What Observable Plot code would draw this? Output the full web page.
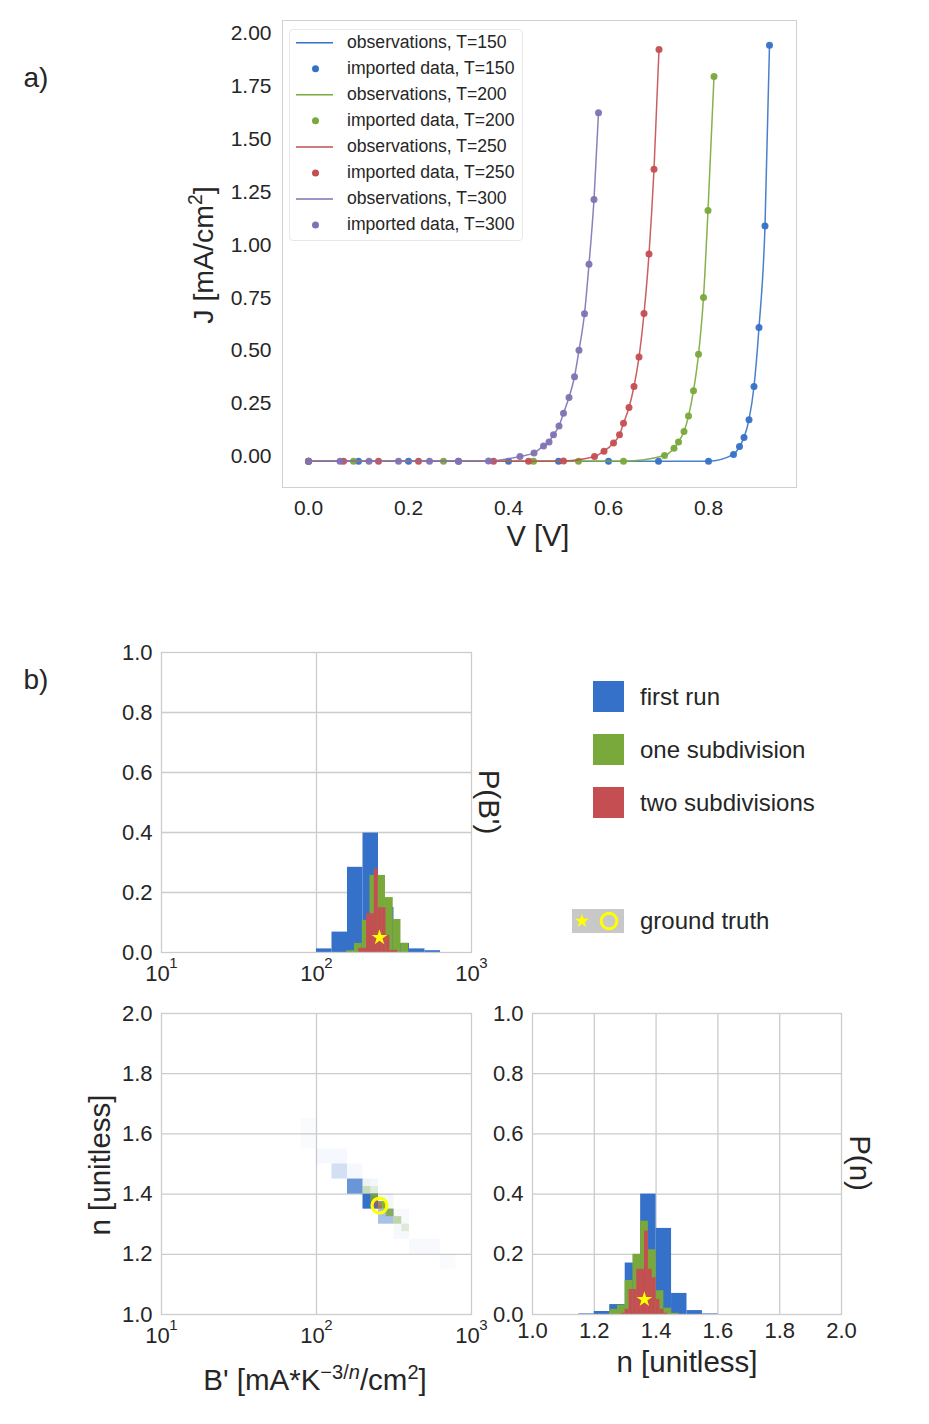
<!DOCTYPE html>
<html><head><meta charset="utf-8">
<script src="https://cdn.jsdelivr.net/npm/d3@7"></script>
<script src="https://cdn.jsdelivr.net/npm/@observablehq/plot@0.6"></script>
<style>
body{margin:0;background:#fff;}
#root{position:relative;width:929px;height:1424px;background:#fff;font-family:"Liberation Sans",Arial,sans-serif;color:#262626;overflow:hidden;}
.abs{position:absolute;white-space:nowrap;line-height:1;}
sup{font-size:0.68em;vertical-align:0.55em;line-height:0;}
</style></head><body><div id="root"></div>
<script>
// ---------- Panel a data: J-V curves ----------
const V_T150 = [0, 0.1, 0.2, 0.3, 0.4, 0.5, 0.6, 0.7, 0.8, 0.85, 0.862, 0.871, 0.881, 0.891, 0.901, 0.913, 0.922];
const J_T150 = [-0.023, -0.023, -0.023, -0.023, -0.023, -0.023, -0.023, -0.023, -0.022, 0.01, 0.047, 0.09, 0.174, 0.331, 0.61, 1.09, 1.944];
const V_T200 = [0, 0.09, 0.27, 0.45, 0.54, 0.63, 0.712, 0.731, 0.74, 0.751, 0.76, 0.77, 0.78, 0.79, 0.799, 0.811];
const J_T200 = [-0.023, -0.023, -0.023, -0.023, -0.023, -0.022, 0.005, 0.039, 0.069, 0.118, 0.191, 0.311, 0.483, 0.752, 1.163, 1.797];
const V_T250 = [0, 0.07, 0.14, 0.22, 0.37, 0.44, 0.51, 0.572, 0.591, 0.61, 0.622, 0.63, 0.641, 0.651, 0.661, 0.671, 0.681, 0.691, 0.701];
const J_T250 = [-0.023, -0.023, -0.023, -0.023, -0.023, -0.023, -0.021, 0.0, 0.025, 0.064, 0.103, 0.157, 0.232, 0.331, 0.47, 0.676, 0.957, 1.358, 1.924];
const V_T300 = [0, 0.063, 0.121, 0.18, 0.242, 0.3, 0.36, 0.423, 0.451, 0.47, 0.481, 0.49, 0.501, 0.51, 0.521, 0.532, 0.541, 0.552, 0.561, 0.571, 0.58];
const J_T300 = [-0.023, -0.023, -0.023, -0.023, -0.023, -0.023, -0.021, 0.0, 0.017, 0.05, 0.068, 0.103, 0.144, 0.205, 0.279, 0.377, 0.502, 0.675, 0.909, 1.215, 1.625];
const TEMPS = [150, 200, 250, 300];
const A_X_TICKS = [0, 0.2, 0.4, 0.6, 0.8];
const A_Y_TICKS = [0, 0.25, 0.5, 0.75, 1.0, 1.25, 1.5, 1.75, 2.0];

// ---------- Panel b data: marginal histograms ----------
// P(B'): lower bin edges in log10(B'), bin widths in decades, probabilities
const PB_BLUE_LOG = [2.0, 2.1, 2.2, 2.3, 2.4, 2.5, 2.6, 2.7];
const PB_BLUE_W = 0.1;
const PB_BLUE_P = [0.012, 0.068, 0.284, 0.398, 0.15, 0.03, 0.012, 0.006];
const PB_GREEN_LOG = [2.195, 2.245, 2.295, 2.345, 2.395, 2.445, 2.495, 2.545];
const PB_GREEN_W = 0.05;
const PB_GREEN_P = [0.006, 0.03, 0.107, 0.257, 0.257, 0.183, 0.11, 0.031];
const PB_RED_LOG = [2.273, 2.298, 2.323, 2.348, 2.373, 2.398, 2.423, 2.448, 2.473, 2.498];
const PB_RED_W = 0.025;
const PB_RED_P = [0.014, 0.014, 0.129, 0.129, 0.279, 0.149, 0.149, 0.057, 0.007, 0.007];
// P(n)
const PN_BLUE_N = [1.15, 1.2, 1.25, 1.3, 1.35, 1.4, 1.45, 1.5, 1.55];
const PN_BLUE_W = 0.05;
const PN_BLUE_P = [0.002, 0.01, 0.033, 0.171, 0.40, 0.286, 0.07, 0.013, 0.002];
const PN_GREEN_N = [1.25, 1.275, 1.3, 1.325, 1.35, 1.375, 1.4, 1.425, 1.45];
const PN_GREEN_W = 0.025;
const PN_GREEN_P = [0.017, 0.031, 0.113, 0.2, 0.31, 0.215, 0.079, 0.021, 0.004];
const PN_RED_N = [1.2875, 1.3, 1.3125, 1.325, 1.3375, 1.35, 1.3625, 1.375, 1.3875, 1.4, 1.4125, 1.425];
const PN_RED_W = 0.0125;
const PN_RED_P = [0.004, 0.017, 0.083, 0.083, 0.15, 0.15, 0.277, 0.15, 0.122, 0.05, 0.017, 0.004];
// joint 2D histogram (log10 B' lower edge, n lower edge, relative density)
const H_BLUE_LOGB = [1.9, 1.9, 2.0, 2.1, 2.1, 2.2, 2.2, 2.3, 2.3, 2.4, 2.4, 2.5, 2.5, 2.6, 2.7, 2.8];
const H_BLUE_N =    [1.60, 1.55, 1.50, 1.50, 1.45, 1.45, 1.40, 1.40, 1.35, 1.35, 1.30, 1.30, 1.25, 1.20, 1.20, 1.15];
const H_BLUE_D =    [0.03, 0.03, 0.05, 0.05, 0.22, 0.05, 0.74, 0.06, 1.0, 0.06, 0.43, 0.04, 0.05, 0.04, 0.04, 0.03];
const H_BLUE_DB = 0.1, H_BLUE_DN = 0.05;
const H_GREEN_LOGB = [2.30, 2.35, 2.35, 2.40, 2.45, 2.50, 2.55, 2.30];
const H_GREEN_N =    [1.40, 1.40, 1.375, 1.35, 1.325, 1.30, 1.275, 1.425];
const H_GREEN_D =    [0.35, 0.15, 0.85, 0.9, 0.8, 0.45, 0.18, 0.05];
const H_GREEN_DB = 0.05, H_GREEN_DN = 0.025;
const H_RED_LOGB = [2.375, 2.40, 2.375, 2.35, 2.40, 2.425];
const H_RED_N =    [1.3625, 1.35, 1.35, 1.375, 1.3625, 1.3375];
const H_RED_D =    [0.7, 0.5, 0.3, 0.25, 0.3, 0.15];
const H_RED_DB = 0.025, H_RED_DN = 0.0125;
// ground truth
const TRUE_B = 255, TRUE_N = 1.362, STAR_Y = 0.05;
const LOG_TICKS = [10, 100, 1000];
const LOG_TICK_EXP = ["1", "2", "3"];
const P_TICKS = [0, 0.2, 0.4, 0.6, 0.8, 1.0];
const N_TICKS = [1.0, 1.2, 1.4, 1.6, 1.8, 2.0];

const BLUE = "#3571c8", GREEN = "#79a83b", RED = "#c44e52", PURPLE = "#8172b2";
const GRID = "#cccccc", YELLOW = "#ffff00";
const FONT = '"Liberation Sans", Arial, sans-serif';

const root = document.getElementById("root");
function put(el, left, top) { el.style.position = "absolute"; el.style.left = left + "px"; el.style.top = top + "px"; root.appendChild(el); }
function label(html, cx, cy, size, rot = 0) {
  const d = document.createElement("div"); d.className = "abs"; d.innerHTML = html;
  d.style.fontSize = size + "px"; d.style.left = cx + "px"; d.style.top = cy + "px";
  d.style.transform = `translate(-50%,-50%) rotate(${rot}deg)`; root.appendChild(d);
}
function labelLeft(html, left, cy, size) {
  const d = document.createElement("div"); d.className = "abs"; d.innerHTML = html;
  d.style.fontSize = size + "px"; d.style.left = left + "px"; d.style.top = cy + "px";
  d.style.transform = "translate(0,-50%)"; root.appendChild(d);
}
const baseStyle = (fs) => ({background: "transparent", overflow: "visible", fontFamily: FONT, fontSize: fs + "px", color: "#262626"});

// ---------- Panel a ----------
const seriesA = [
  {T: TEMPS[0], V: V_T150, J: J_T150, color: BLUE},
  {T: TEMPS[1], V: V_T200, J: J_T200, color: GREEN},
  {T: TEMPS[2], V: V_T250, J: J_T250, color: RED},
  {T: TEMPS[3], V: V_T300, J: J_T300, color: PURPLE}
];
const marksA = [Plot.frame({stroke: "#d0d0d0"})];
for (const s of seriesA) {
  const rows = s.V.map((v, i) => ({V: v, J: s.J[i]}));
  marksA.push(Plot.line(rows, {x: "V", y: "J", stroke: s.color, strokeWidth: 1.5, strokeOpacity: 0.9, curve: "monotone-x"}));
  marksA.push(Plot.dot(rows, {x: "V", y: "J", r: 3.5, fill: s.color, fillOpacity: 0.95}));
}
marksA.push(Plot.axisX({ticks: A_X_TICKS, tickFormat: d3.format(".1f"), tickSize: 0, tickPadding: 13, label: null}));
marksA.push(Plot.axisY({ticks: A_Y_TICKS, tickFormat: d3.format(".2f"), tickSize: 0, tickPadding: 11, label: null}));
const plotA = Plot.plot({
  width: 929, height: 560, marginLeft: 282, marginRight: 133, marginTop: 20, marginBottom: 73,
  x: {domain: [-0.052, 0.976]}, y: {domain: [-0.1466, 2.0615]},
  style: baseStyle(21), marks: marksA
});
put(plotA, 0, 0);

// legend a
const legA = document.createElement("div");
legA.style.cssText = "width:234px;height:212px;border:1px solid #e8e8e8;border-radius:4px;background:#fff;box-sizing:border-box;";
put(legA, 289, 29);
const legSvg = d3.create("svg").attr("width", 929).attr("height", 260).style("position", "absolute").style("left", "0px").style("top", "0px").style("overflow", "visible");
seriesA.forEach((s, k) => {
  const yl = 42.7 + (2 * k) * 26.05, yd = 42.7 + (2 * k + 1) * 26.05;
  legSvg.append("line").attr("x1", 296).attr("x2", 333).attr("y1", yl).attr("y2", yl).attr("stroke", s.color).attr("stroke-width", 1.5);
  legSvg.append("circle").attr("cx", 315.5).attr("cy", yd).attr("r", 3.5).attr("fill", s.color);
  labelLeft(`observations, T=${s.T}`, 347, yl, 17.6);
  labelLeft(`imported data, T=${s.T}`, 347, yd, 17.6);
});
root.appendChild(legSvg.node());

label("a)", 36, 78, 28);
label("J [mA/cm<sup>2</sup>]", 203, 255, 28.5, -90);
label("V [V]", 538, 536, 29);

// ---------- Panel b helpers ----------
const histLog = (edges, w, p) => edges.map((e, i) => ({x1: 10 ** e, x2: 10 ** (e + w), y: p[i]}));
const histLin = (edges, w, p) => edges.map((e, i) => ({x1: e, x2: e + w, y: p[i]}));
const cells = (lb, n, d, db, dn) => lb.map((b, i) => ({x1: 10 ** b, x2: 10 ** (b + db), y1: n[i], y2: n[i] + dn, d: d[i]}));
const gridOpts = {stroke: GRID, strokeOpacity: 1, strokeWidth: 1.3};
const logLabels = () => [
  Plot.text(LOG_TICKS, {x: d => d, text: () => "10", frameAnchor: "bottom", dy: 28, dx: -4, fontSize: 22}),
  Plot.text(LOG_TICKS, {x: d => d, text: (d, i) => LOG_TICK_EXP[i], frameAnchor: "bottom", dy: 15, dx: 12, fontSize: 15})
];

// top marginal P(B')
const plotB1 = Plot.plot({
  width: 531, height: 402, marginLeft: 161, marginRight: 60, marginTop: 52, marginBottom: 50,
  x: {type: "log", domain: [10, 1000], axis: null}, y: {domain: [0, 1], axis: null},
  style: baseStyle(22),
  marks: [
    Plot.gridY({ticks: [0.2, 0.4, 0.6, 0.8], ...gridOpts}),
    Plot.gridX({ticks: [100], ...gridOpts}),
    Plot.rectY(histLog(PB_BLUE_LOG, PB_BLUE_W, PB_BLUE_P), {x1: "x1", x2: "x2", y: "y", fill: BLUE}),
    Plot.rectY(histLog(PB_GREEN_LOG, PB_GREEN_W, PB_GREEN_P), {x1: "x1", x2: "x2", y: "y", fill: GREEN}),
    Plot.rectY(histLog(PB_RED_LOG, PB_RED_W, PB_RED_P), {x1: "x1", x2: "x2", y: "y", fill: RED}),
    Plot.frame({stroke: GRID, strokeWidth: 1.3}),
    Plot.dot([{x: TRUE_B, y: STAR_Y}], {x: "x", y: "y", symbol: "star", r: 4.9, fill: YELLOW}),
    Plot.axisY({ticks: P_TICKS, tickFormat: d3.format(".1f"), tickSize: 0, tickPadding: 9, label: null}),
    ...logLabels()
  ]
});
put(plotB1, 0, 600);

// joint
const plotB2 = Plot.plot({
  width: 531, height: 374, marginLeft: 161, marginRight: 60, marginTop: 13, marginBottom: 60,
  x: {type: "log", domain: [10, 1000], axis: null}, y: {domain: [1, 2], axis: null},
  opacity: {type: "linear", domain: [0, 1], range: [0, 1]},
  style: baseStyle(22),
  marks: [
    Plot.gridY({ticks: [1.2, 1.4, 1.6, 1.8], ...gridOpts}),
    Plot.gridX({ticks: [100], ...gridOpts}),
    Plot.rect(cells(H_BLUE_LOGB, H_BLUE_N, H_BLUE_D, H_BLUE_DB, H_BLUE_DN), {x1: "x1", x2: "x2", y1: "y1", y2: "y2", fill: BLUE, fillOpacity: "d"}),
    Plot.rect(cells(H_GREEN_LOGB, H_GREEN_N, H_GREEN_D, H_GREEN_DB, H_GREEN_DN), {x1: "x1", x2: "x2", y1: "y1", y2: "y2", fill: GREEN, fillOpacity: "d"}),
    Plot.rect(cells(H_RED_LOGB, H_RED_N, H_RED_D, H_RED_DB, H_RED_DN), {x1: "x1", x2: "x2", y1: "y1", y2: "y2", fill: RED, fillOpacity: "d"}),
    Plot.frame({stroke: GRID, strokeWidth: 1.3}),
    Plot.dot([{x: TRUE_B, y: TRUE_N}], {x: "x", y: "y", r: 7.5, stroke: YELLOW, strokeWidth: 3.2, fill: "none"}),
    Plot.axisY({ticks: N_TICKS, tickFormat: d3.format(".1f"), tickSize: 0, tickPadding: 9, label: null}),
    ...logLabels()
  ]
});
put(plotB2, 0, 1000);

// right marginal P(n)
const plotB3 = Plot.plot({
  width: 491, height: 374, marginLeft: 132, marginRight: 50, marginTop: 13, marginBottom: 60,
  x: {domain: [1, 2]}, y: {domain: [0, 1]},
  style: baseStyle(22),
  marks: [
    Plot.gridY({ticks: [0.2, 0.4, 0.6, 0.8], ...gridOpts}),
    Plot.gridX({ticks: [1.2, 1.4, 1.6, 1.8], ...gridOpts}),
    Plot.rectY(histLin(PN_BLUE_N, PN_BLUE_W, PN_BLUE_P), {x1: "x1", x2: "x2", y: "y", fill: BLUE}),
    Plot.rectY(histLin(PN_GREEN_N, PN_GREEN_W, PN_GREEN_P), {x1: "x1", x2: "x2", y: "y", fill: GREEN}),
    Plot.rectY(histLin(PN_RED_N, PN_RED_W, PN_RED_P), {x1: "x1", x2: "x2", y: "y", fill: RED}),
    Plot.frame({stroke: GRID, strokeWidth: 1.3}),
    Plot.dot([{x: TRUE_N, y: STAR_Y}], {x: "x", y: "y", symbol: "star", r: 4.9, fill: YELLOW}),
    Plot.axisY({ticks: P_TICKS, tickFormat: d3.format(".1f"), tickSize: 0, tickPadding: 9, label: null}),
    Plot.axisX({ticks: N_TICKS, tickFormat: d3.format(".1f"), tickSize: 0, tickPadding: 8, label: null})
  ]
});
put(plotB3, 400, 1000);

label("b)", 36, 680, 28);
label("P(B')", 489, 802, 29.5, 90);
label("P(n)", 860, 1163, 29.5, 90);
label("n [unitless]", 100, 1165, 29.5, -90);
label("n [unitless]", 687, 1362, 29.5);
label("B' [mA*K<sup>−3/<i>n</i></sup>/cm<sup>2</sup>]", 315, 1380, 29.5);

// legend b
const legB = [["first run", BLUE, 681], ["one subdivision", GREEN, 734], ["two subdivisions", RED, 787]];
for (const [t, c, y] of legB) {
  const sq = document.createElement("div");
  sq.style.cssText = `width:31px;height:31px;background:${c};`;
  put(sq, 593, y);
  labelLeft(t, 640, y + 16, 24);
}
const gt = d3.create("svg").attr("width", 60).attr("height", 30).style("overflow", "visible");
gt.append("rect").attr("x", 0).attr("y", 2).attr("width", 52).attr("height", 24).attr("fill", "#c8c8c8");
gt.append("path").attr("d", d3.symbol(d3.symbolStar, Math.PI * 4.5 * 4.5)()).attr("transform", "translate(10,14)").attr("fill", YELLOW);
gt.append("circle").attr("cx", 37).attr("cy", 14).attr("r", 7.8).attr("fill", "none").attr("stroke", YELLOW).attr("stroke-width", 3);
put(gt.node(), 572, 907);
labelLeft("ground truth", 640, 921, 24);
</script></body></html>
